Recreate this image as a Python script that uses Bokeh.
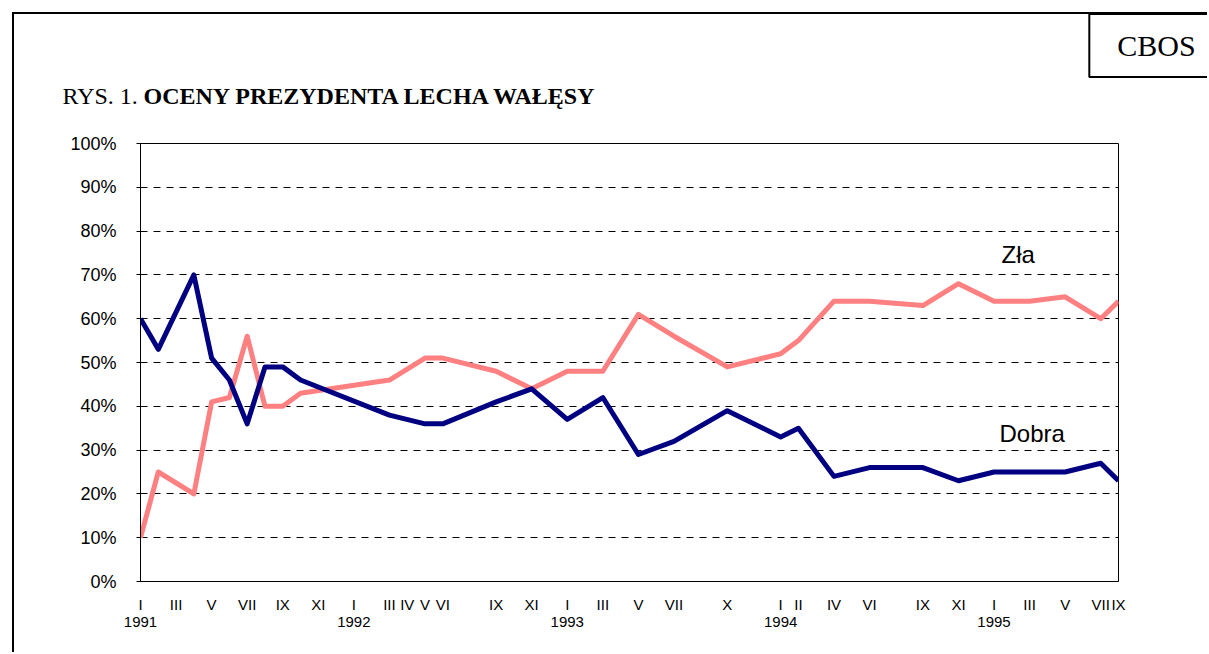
from bokeh.plotting import figure
from bokeh.models import (Range1d, FixedTicker, LinearAxis, Label, PrintfTickFormatter)
from bokeh.embed import file_html
from bokeh.resources import INLINE

# ---- data (category index = month since I 1991; VIII 1995 skipped, IX 1995 = 55) ----
point_idx = [0, 1, 3, 4, 5, 6, 7, 8, 9, 14, 16, 17, 20, 22, 24, 26, 28, 30, 33,
             36, 37, 39, 41, 44, 46, 48, 50, 52, 54, 55]
dobra = [60, 53, 70, 51, 46, 36, 49, 49, 46, 38, 36, 36, 41, 44, 37, 42, 29, 32, 39,
         33, 35, 24, 26, 26, 23, 25, 25, 25, 27, 23]
zla = [10, 25, 20, 41, 42, 56, 40, 40, 43, 46, 51, 51, 48, 44, 48, 48, 61, 56, 49,
       52, 55, 64, 64, 63, 68, 64, 64, 65, 60, 64]

tick_idx = [0, 2, 4, 6, 8, 10, 12, 14, 15, 16, 17, 20, 22, 24, 26, 28, 30, 33,
            36, 37, 39, 41, 44, 46, 48, 50, 52, 54, 55]
tick_labels = ["I", "III", "V", "VII", "IX", "XI", "I", "III", "IV", "V", "VI", "IX", "XI",
               "I", "III", "V", "VII", "X", "I", "II", "IV", "VI", "IX", "XI",
               "I", "III", "V", "VII", "IX"]
year_idx = [0, 12, 24, 36, 48]
year_labels = ["1991", "1992", "1993", "1994", "1995"]
y_ticks = [0, 10, 20, 30, 40, 50, 60, 70, 80, 90, 100]

# ---- layout helpers (page pixel -> data coords for decorations) ----
FX0, FX1, FY0, FY1 = 140.0, 1118.0, 581.0, 143.0
XMAX = 55.0


def dx(px):
    return (px - FX0) / (FX1 - FX0) * XMAX


def dy(py):
    return (FY0 - py) / (FY0 - FY1) * 100.0


OFF = 14  # canvas origin on the page (margin 12 + border 2)
W, H = 1195, 640
p = figure(width=W, height=H, output_backend="svg", toolbar_location=None,
           x_range=Range1d(0, XMAX), y_range=Range1d(0, 100),
           min_border_left=int(FX0 - OFF), min_border_top=int(FY1 - OFF),
           min_border_right=int(W - (FX1 - OFF)), min_border_bottom=int(H - (FY0 - OFF)),
           styles={"margin-left": "12px", "margin-top": "12px",
                   "border-left": "2px solid black", "border-top": "2px solid black"})
p.background_fill_color = "white"
p.border_fill_color = "white"
p.outline_line_color = "black"
p.outline_line_width = 1

# x axis (months)
xa = p.xaxis[0]
xa.ticker = FixedTicker(ticks=tick_idx)
xa.major_label_overrides = {i: l for i, l in zip(tick_idx, tick_labels)}
xa.axis_line_color = "black"
xa.major_tick_line_color = None
xa.minor_tick_line_color = None
xa.major_tick_out = 0
xa.major_tick_in = 0
xa.major_label_standoff = 14
xa.major_label_text_font = "Liberation Sans"
xa.major_label_text_font_size = "15px"
xa.major_label_text_color = "black"

# year axis
ya2 = LinearAxis(ticker=FixedTicker(ticks=year_idx),
                 major_label_overrides={i: l for i, l in zip(year_idx, year_labels)},
                 axis_line_color=None, major_tick_line_color=None,
                 minor_tick_line_color=None, major_tick_out=0, major_tick_in=0,
                 major_label_standoff=1, major_label_text_font="Liberation Sans",
                 major_label_text_font_size="15px", major_label_text_color="black")
p.add_layout(ya2, "below")

# y axis
yax = p.yaxis[0]
yax.ticker = FixedTicker(ticks=y_ticks)
yax.formatter = PrintfTickFormatter(format="%d%%")
yax.axis_line_color = "black"
yax.major_tick_line_color = "black"
yax.major_tick_out = 4
yax.major_tick_in = 0
yax.minor_tick_line_color = None
yax.major_label_standoff = 20
yax.major_label_text_font = "Liberation Sans"
yax.major_label_text_font_size = "18px"
yax.major_label_text_color = "black"

p.xgrid.grid_line_color = None
p.ygrid.ticker = FixedTicker(ticks=y_ticks)
p.ygrid.grid_line_color = "black"
p.ygrid.grid_line_dash = "7 6"
p.ygrid.grid_line_width = 1

# series
p.line(point_idx, zla, line_color="#FF8080", line_width=5, line_join="round")
p.line(point_idx, dobra, line_color="#000080", line_width=5, line_join="round")

# series labels (inside the frame)
p.add_layout(Label(x=dx(1001), y=dy(254), text="Zła", text_font="Liberation Sans",
                   text_font_size="24px", text_color="black",
                   text_baseline="alphabetic"))
p.add_layout(Label(x=dx(999), y=dy(433), text="Dobra", text_font="Liberation Sans",
                   text_font_size="24px", text_color="black",
                   text_baseline="alphabetic"))

# title and CBOS box (outside the frame -> placed in the "above" side panel)
p.add_layout(Label(x=dx(62), y=dy(95), text="RYS. 1.", text_font="Liberation Serif",
                   text_font_size="24px", text_color="black",
                   text_baseline="alphabetic"), "above")
p.add_layout(Label(x=dx(143), y=dy(95), text="OCENY PREZYDENTA LECHA WAŁĘSY",
                   text_font="Liberation Serif", text_font_style="bold",
                   text_font_size="24px", text_color="black",
                   text_baseline="alphabetic"), "above")
p.add_layout(Label(x=dx(1156), y=dy(45), text="CBOS", text_font="Liberation Serif",
                   text_font_size="30px", text_color="black", text_align="center",
                   text_baseline="middle", border_line_color="black",
                   border_line_width=2, padding=(28, 15)), "above")

open("out.html", "w").write(file_html(p, INLINE))
